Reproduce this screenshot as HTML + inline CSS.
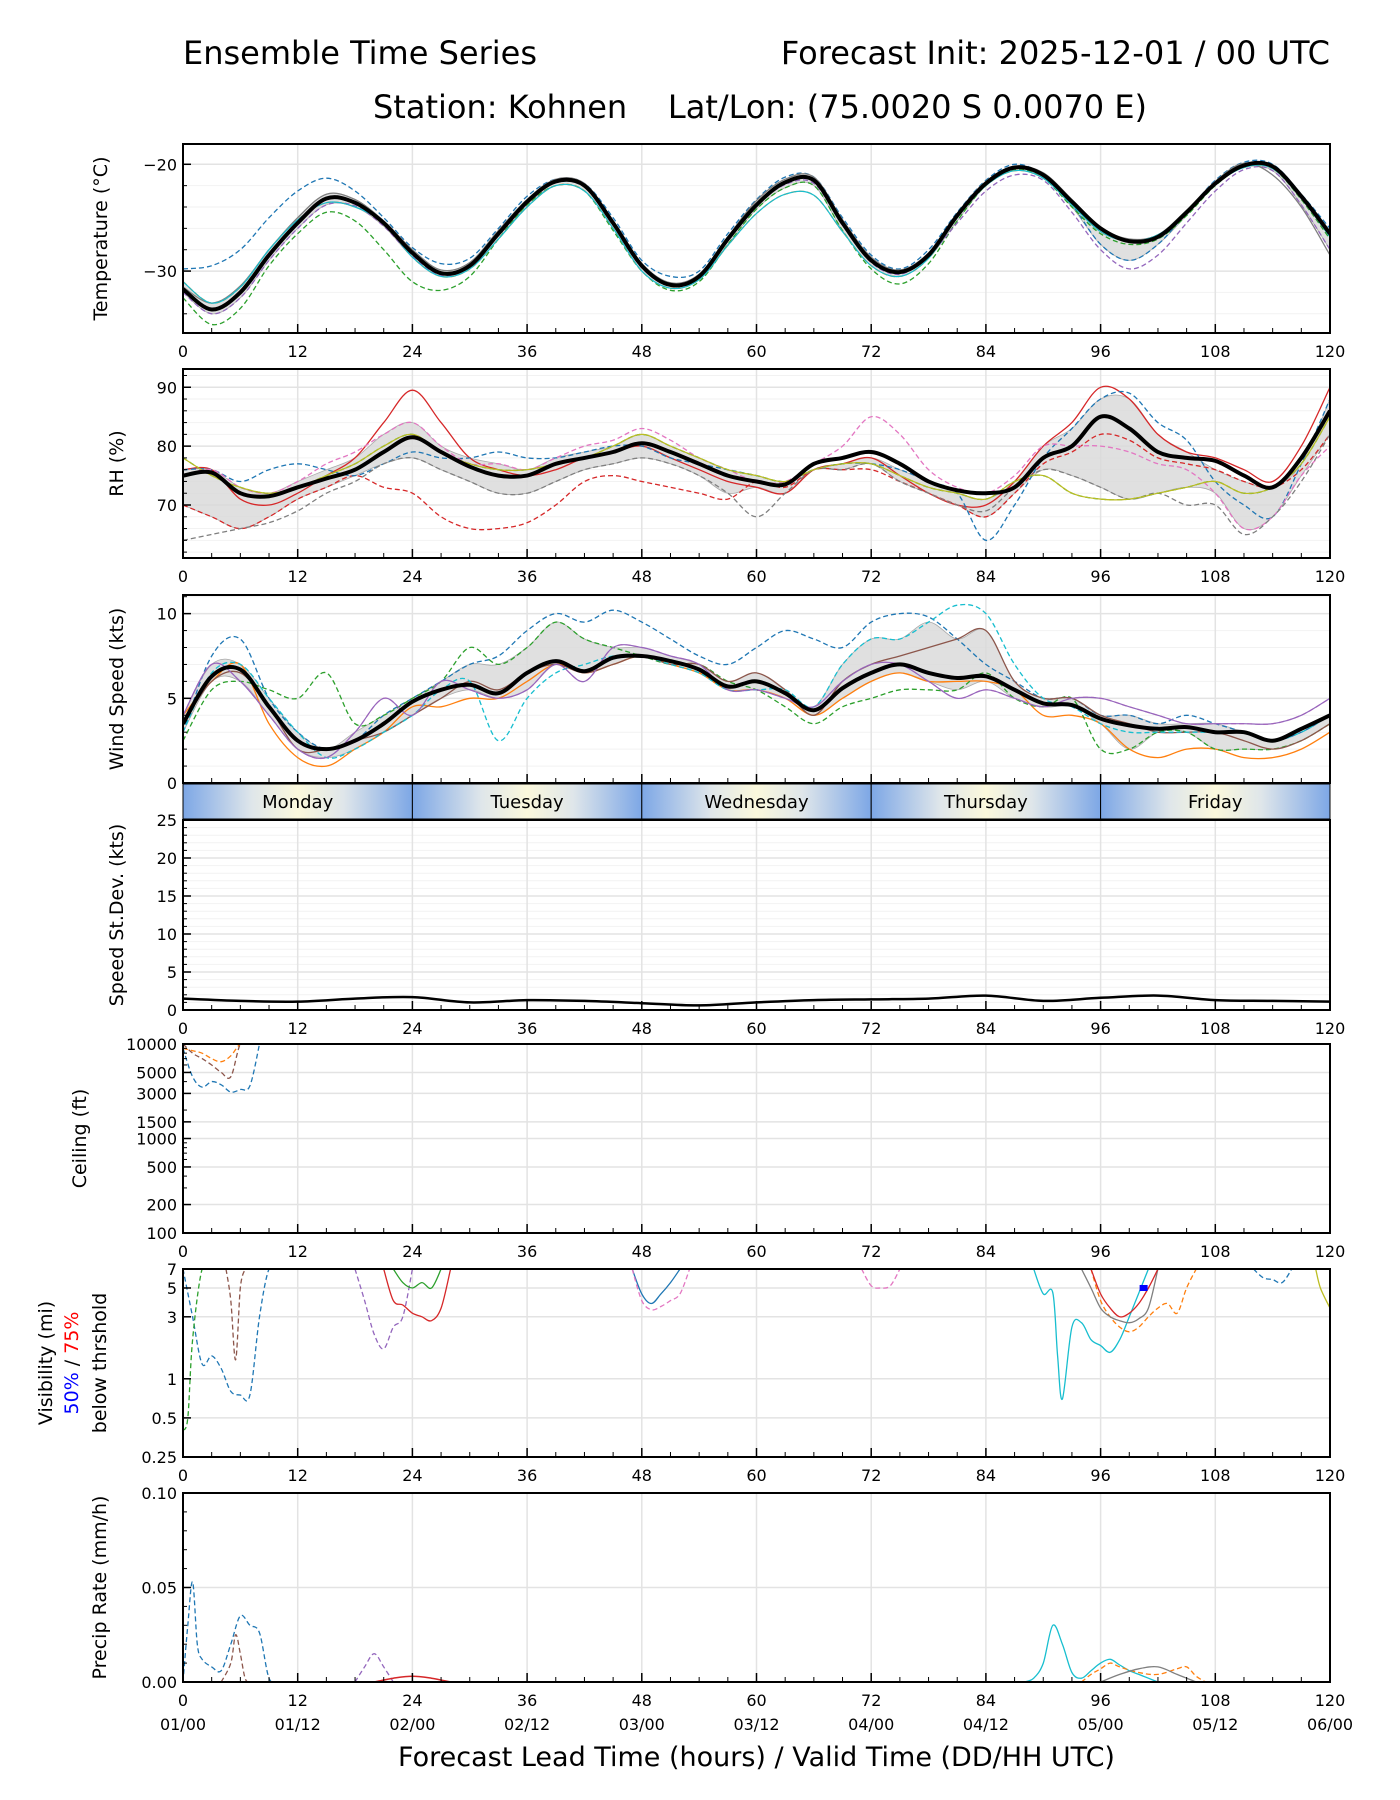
<!DOCTYPE html>
<html><head><meta charset="utf-8"><style>
body{margin:0;background:#fff}
svg{display:block;font-family:"DejaVu Sans","Liberation Sans",sans-serif}
</style></head><body>
<svg id="fig" width="1400" height="1800" viewBox="0 0 1400 1800" xmlns="http://www.w3.org/2000/svg">
<defs>
<linearGradient id="dayg" x1="0" x2="1" y1="0" y2="0">
<stop offset="0" stop-color="#7da7e6"/><stop offset="0.3" stop-color="#dfe6ea"/><stop offset="0.5" stop-color="#fbf8dc"/><stop offset="0.7" stop-color="#dfe6ea"/><stop offset="1" stop-color="#7da7e6"/>
</linearGradient>
</defs>
<text x="183" y="64" font-size="32">Ensemble Time Series</text>
<text x="1330" y="64" font-size="32" text-anchor="end">Forecast Init: 2025-12-01 / 00 UTC</text>
<text x="760" y="118" font-size="32" text-anchor="middle">Station: Kohnen &#160;&#160; Lat/Lon: (75.0020 S 0.0070 E)</text>
<g id="plots"></g>
</svg>
<script>
// ---- data ----
const hours3 = [0,3,6,9,12,15,18,21,24,27,30,33,36,39,42,45,48,51,54,57,60,63,66,69,72,75,78,81,84,87,90,93,96,99,102,105,108,111,114,117,120];
const hours6 = [0,6,12,18,24,30,36,42,48,54,60,66,72,78,84,90,96,102,108,114,120];
const xTicks = [0,12,24,36,48,60,72,84,96,108,120];
const dateLabels = ["01/00","01/12","02/00","02/12","03/00","03/12","04/00","04/12","05/00","05/12","06/00"];
const dayNames = ["Monday","Tuesday","Wednesday","Thursday","Friday"];

const tempMean = [-31.7,-33.6,-32,-28.5,-25.5,-23.2,-23.6,-25.5,-28.3,-30.2,-29.5,-26.5,-23.5,-21.6,-22,-25.5,-29.5,-31.3,-30.5,-27,-23.8,-21.7,-21.5,-25.5,-29,-30.1,-28.5,-24.8,-21.8,-20.3,-21,-23.5,-26,-27.2,-26.8,-24.5,-21.8,-20.1,-20.2,-23,-26.5];
const tempM1 = [-29.8,-29.5,-28,-25,-22.5,-21.3,-22.5,-25,-27.8,-29.3,-28.8,-26,-23,-21.4,-21.8,-25,-29,-30.5,-30,-26.5,-23.3,-21.2,-21.2,-25,-28.5,-29.8,-28,-24.5,-21.5,-20,-21,-23.8,-27.5,-29,-27.5,-24.5,-21.5,-19.8,-20,-22.8,-26];
const tempM2 = [-32.5,-35,-33.5,-29.5,-26.5,-24.5,-25.3,-28,-31,-31.8,-30.5,-27,-23.8,-22,-22.5,-26.2,-30,-31.8,-31,-27.5,-24.2,-22.2,-22,-26.2,-29.8,-31.2,-29.3,-25.3,-22,-20.5,-21.3,-24,-26.5,-27.5,-27,-24.8,-22,-20.2,-20.4,-23.3,-27];
const tempM3 = [-31,-33,-31.5,-28,-25.2,-23.6,-24,-25.5,-28.7,-30.5,-29.8,-27,-24,-22,-22.5,-26,-30,-31.6,-30.8,-27.6,-24.6,-22.8,-22.9,-26.3,-29.5,-30.5,-28.8,-25,-22,-20.6,-21.3,-23.8,-26.3,-27.2,-26.6,-24.6,-21.9,-20.3,-20.4,-23.2,-26.8];
const tempM4 = [-32,-34,-32.5,-29,-26,-23.8,-23.9,-25.8,-28.6,-30.4,-29.6,-26.7,-23.7,-21.7,-22.1,-25.7,-29.7,-31.4,-30.6,-27.2,-23.9,-21.9,-21.8,-25.7,-29.2,-30.3,-28.6,-25.5,-22.5,-21,-21.5,-24.5,-28,-29.8,-28.5,-25.5,-22.5,-20.5,-20.6,-23.8,-28];
const tempM5 = [-31.5,-33,-31.4,-28,-25,-22.8,-23.3,-25.3,-28,-29.9,-29.2,-26.2,-23.3,-21.4,-21.8,-25.3,-29.3,-31.1,-30.3,-26.8,-23.4,-21.4,-21.2,-25.2,-28.7,-29.9,-28.3,-24.6,-21.6,-20.2,-20.8,-23.3,-25.9,-27,-26.6,-24.3,-21.6,-19.9,-21,-24,-28.5];
const tempTicks = [-20,-30];

const rhMean = [75,75.5,72,71.5,73,74.5,76,79,81.5,79,76.5,75,75,77,78,79,80.5,79,77,75,74,73.5,77,78,79,77,74,72.5,72,73,78,80,85,83,79,78,77.5,75,73,78,86];
const rhM1 = [76,76,71,70,72,75,78,84,89.5,84,78,76,75,76,78,79,80,78,76,74,73,72,76,77,78,75,72,70,70,74,80,84,90,88,82,79,78,76,74,80,90];
const rhM2 = [70,68,66,68,71,73,75,73,72,68,66,66,67,70,74,75,74,73,72,71,74,73,76,76,76,74,72,70,68,72,77,79,82,81,78,77,76,74,73,76,82];
const rhM3 = [76,76,74,76,77,76,75,77,79,78,78,79,78,78,79,80,80,78,77,76,75,74,76,77,77,76,74,72,64,70,78,83,88,89,84,81,74,70,68,77,88];
const rhM4 = [75,76,73,72,74,77,79,82,84,80,77,77,76,78,80,81,83,81,78,76,74,74,77,80,85,82,76,73,72,75,80,80,80,79,77,76,72,66,68,75,80];
const rhM5 = [64,65,66,67,69,72,74,77,78,76,74,72,72,74,76,77,78,77,75,72,68,72,76,76,77,74,72,70,69,73,76,75,73,71,72,70,70,65,68,74,82];
const rhM6 = [78,75,73,72,73,75,77,80,82,79,77,76,76,77,78,80,82,80,78,76,75,74,76,77,77,75,73,72,71,74,75,72,71,71,72,73,74,72,73,77,85];
const rhTicks = [70,80,90];

const windMean = [3.5,6.3,6.7,4.5,2.5,2.0,2.5,3.5,4.8,5.5,5.8,5.3,6.5,7.2,6.6,7.4,7.5,7.2,6.7,5.7,6.0,5.3,4.3,5.6,6.5,7.0,6.5,6.2,6.3,5.5,4.7,4.6,3.8,3.4,3.2,3.3,3.0,3.0,2.5,3.2,4.0];
const windM1 = [3,7.5,8.5,5,3,2,2.5,4,5,6,7,7.5,9,10,9.5,10.2,9.5,8.5,7.5,7,8,9,8.5,8,9.5,10,9.8,8.5,7,6,5,5,4,4,3.5,4,3.5,3,2.5,3,4];
const windM2 = [4,6,7,3.5,1.5,1,2,3,4.5,4.5,5,5,6,7,6.5,7,7.5,7,6.5,5.5,5.5,5,4,5,6,6.5,6,6,6,5.5,4,4,3.5,2,1.5,2,2,1.5,1.5,2,3];
const windM3 = [2.5,5.5,6,5.5,5,6.5,3.5,4,5,6,8,7,8,9.5,8.5,8,7.5,7,7,6,5.5,4.5,3.5,4.5,5,5.5,5.5,5.5,6.5,5,4.5,5,2,2,3,3,2,2,2,2.5,3.5];
const windM4 = [4,7,6,4,2,1.5,3,5,4,6,5.5,5,5.5,7,6,8,8,7.5,7,5.5,5.5,5,4.5,6,7,7,6,5,5.5,5,4.5,5,5,4.5,4,3.5,3.5,3.5,3.5,4,5];
const windM5 = [3.5,6,6.5,4.5,2,2,2.5,3,4,5,6,5.5,6.5,7,6.5,7,7.5,7,7,6,6.5,5.5,4,6,7,7.5,8,8.5,9,6,5,5,4,3.5,3,3,3,2.5,2,2.5,3.5];
const windM6 = [3,6.5,7,5,3,1.5,2,3,4,5.5,6,2.5,5,6.5,7,7.5,7.5,7,6.5,5.5,5.5,5.5,4.5,7,8.5,8.5,9.5,10.5,10,7,5,4.5,3.5,3,3,3,3,3,2.5,3,4];
const windTicks = [0,5,10];

const sdValues = [1.5,1.2,1.1,1.5,1.7,1.0,1.3,1.2,0.9,0.6,1.0,1.3,1.4,1.5,1.9,1.2,1.6,1.9,1.3,1.2,1.1];
const sdTicks = [0,5,10,15,20,25];

const ceilHours = [0,1,2,3,4,5,6,7,8];
const ceilM1 = [9000,4500,3500,4000,3700,3100,3300,3600,10000];
const ceilM2 = [10000,8000,7000,6000,5000,4500,10000,10000,10000];
const ceilM3 = [9000,8500,8000,7000,6500,7500,10000,10000,10000];
const ceilTicks = [100,200,500,1000,1500,3000,5000,10000];

const visH1 = [0,1,2,3,4,5,6,7,8,9,10], visV1 = [7,3,1.3,1.5,1.2,0.8,0.75,0.75,3,7,7];
const visH2 = [0,0.5,1,2,3], visV2 = [0.4,0.5,2,7,7];
const visH3 = [4.5,5,5.5,6,6.5], visV3 = [7,4,1.4,5,7];
const visH4 = [18,19,20,21,22,23,24], visV4 = [7,4,2.2,1.7,2.5,3,7];
const visH5 = [21,22,23,24,25,26,27,28], visV5 = [7,4,3.7,3.2,3,2.8,3.5,7];
const visH6 = [22,23,24,25,26,27], visV6 = [7,5.5,5,5.5,5,7];
const visH7 = [47,48,49,50,51,52], visV7 = [7,4.5,3.8,4.5,5.5,7];
const visH8 = [47,48,49,50,51,52,53], visV8 = [7,4,3.4,3.6,4,4.5,7];
const visH9 = [89,90,91,91.5,92,93,94,95,96,97,98,99,101], visV9 = [7,4.5,4.6,1.5,0.7,2.5,2.7,2.0,1.8,1.6,2,3,7];
const visH10 = [95,96,97,98,99,100,101,102,103,104,105,106], visV10 = [7,4,3,2.5,2.3,2.5,3,3.5,3.8,3.2,5,7];
const visH11 = [94,95,96,97,98,99,100,101,102], visV11 = [7,5,3.5,3,2.8,2.7,2.9,3.5,7];
const visH12 = [71,72,73,74,75], visV12 = [7,5.2,5,5.2,7];
const visH13 = [95,96,97,98,99,100,101,102], visV13 = [7,4.5,3.5,3,3.2,3.8,5,7];
const visH14 = [112,113,114,115,116], visV14 = [7,6,5.8,5.5,7];
const visH15 = [118.5,119,120], visV15 = [7,5,3.5];
const visTicks = [0.25,0.5,1,3,5,7];

const prH1 = [0,0.5,1,1.5,2,3,4,5,6,7,8,9,10], prV1 = [0,0.03,0.053,0.02,0.012,0.008,0.006,0.02,0.035,0.03,0.026,0.002,0];
const prH2 = [4,5,5.5,6,6.5,7,8], prV2 = [0,0.01,0.025,0.015,0.002,0,0];
const prH3 = [18,19,20,21,22], prV3 = [0,0.008,0.015,0.008,0];
const prH4 = [88,89,90,91,92,93,94,95,96,97,98,99,100,101,102], prV4 = [0,0.002,0.01,0.03,0.02,0.005,0.002,0.006,0.01,0.012,0.009,0.006,0.004,0.002,0];
const prH5 = [94,95,96,97,98,100,102,104,105,106,107], prV5 = [0,0.004,0.007,0.01,0.008,0.005,0.004,0.007,0.008,0.003,0];
const prH6 = [96,98,100,102,104,106], prV6 = [0,0.004,0.007,0.008,0.004,0];
const prH7 = [20,22,24,26,28], prV7 = [0,0.002,0.003,0.002,0];
const prTicks = [0,0.05,0.10];

// ---- drawing ----
const NS = "http://www.w3.org/2000/svg";
const root = document.getElementById('plots');
const X0 = 183, X1 = 1330;
function xs(h){ return X0 + (h/120)*(X1-X0); }
function mk(tag, attrs, parent){ const e = document.createElementNS(NS, tag); for (const k in attrs) e.setAttribute(k, attrs[k]); (parent||root).appendChild(e); return e; }
function linScale(lo,hi,top,bot){ return v => bot - (v-lo)/(hi-lo)*(bot-top); }
function logScale(lo,hi,top,bot){ return v => bot - (Math.log(v)-Math.log(lo))/(Math.log(hi)-Math.log(lo))*(bot-top); }
function smoothPath(pts){
  if (pts.length < 2) return "";
  let d = "M" + pts[0][0].toFixed(1) + "," + pts[0][1].toFixed(1);
  for (let i=0;i<pts.length-1;i++){
    const p0 = pts[Math.max(0,i-1)], p1 = pts[i], p2 = pts[i+1], p3 = pts[Math.min(pts.length-1,i+2)];
    const c1x = p1[0]+(p2[0]-p0[0])/6, c1y = p1[1]+(p2[1]-p0[1])/6;
    const c2x = p2[0]-(p3[0]-p1[0])/6, c2y = p2[1]-(p3[1]-p1[1])/6;
    d += "C"+c1x.toFixed(1)+","+c1y.toFixed(1)+" "+c2x.toFixed(1)+","+c2y.toFixed(1)+" "+p2[0].toFixed(1)+","+p2[1].toFixed(1);
  }
  return d;
}
let clipN = 0;
function panel(name, top, bot, ys, yTicks, yFmt, minorY, noXLabels){
  const g = mk('g', {});
  
  
  if (minorY) minorY.forEach(v => { const y = ys(v); if (y>top && y<bot) mk('line', {x1:X0,x2:X1,y1:y,y2:y,stroke:'#f2f2f2','stroke-width':1}, g); });
  yTicks.forEach(v => { const y = ys(v); mk('line', {x1:X0,x2:X1,y1:y,y2:y,stroke:'#e3e3e3','stroke-width':1.5}, g); });
  xTicks.forEach(h => { mk('line', {x1:xs(h),x2:xs(h),y1:top,y2:bot,stroke:'#e3e3e3','stroke-width':1.5}, g); });
  const id = 'clip' + (clipN++);
  const cp = mk('clipPath', {id:id}, g); mk('rect', {x:X0,y:top,width:X1-X0,height:bot-top}, cp);
  const data = mk('g', {'clip-path':'url(#'+id+')'}, g);
  
  
  for (let h=0; h<=120; h+=3){
    const major = h%12===0; const L = major?9:5;
    mk('line', {x1:xs(h),x2:xs(h),y1:bot,y2:bot-L,stroke:'#000','stroke-width':major?1.5:1}, g);
  }
  yTicks.forEach(v => {
    const y = ys(v);
    mk('line', {x1:X0,x2:X0+8,y1:y,y2:y,stroke:'#000','stroke-width':1.5}, g);
    const t = mk('text', {x:X0-6,y:y+6,'font-size':16,'text-anchor':'end'}, g);
    t.textContent = yFmt(v);
    
    
  });
  if (minorY) minorY.forEach(v => { const y = ys(v); if (y>top && y<bot) mk('line', {x1:X0,x2:X0+4,y1:y,y2:y,stroke:'#000','stroke-width':1}, g); });
  mk('rect', {x:X0,y:top,width:X1-X0,height:bot-top,fill:'none',stroke:'#000','stroke-width':2}, g);
  if (!noXLabels) xTicks.forEach(h => {
    const t = mk('text', {x:xs(h),y:bot+24,'font-size':16,'text-anchor':'middle'}, g);
    t.textContent = h;
    
    
  });
  return data;
}
function yLabel(text, cx, cy, name){
  const t = mk('text', {x:cx,y:cy,'font-size':19,'text-anchor':'middle',transform:'rotate(-90 '+cx+' '+cy+')'});
  t.textContent = text;
  
  
  return t;
}
const tab = ['#1f77b4','#ff7f0e','#2ca02c','#d62728','#9467bd','#8c564b','#e377c2','#7f7f7f','#bcbd22','#17becf'];
function line(g, hrs, vals, ys, color, dashed, w, name){
  const pts = hrs.map((h,i) => [xs(h), ys(vals[i])]);
  const p = mk('path', {d:smoothPath(pts),fill:'none',stroke:color,'stroke-width':w||1.3,'stroke-dasharray':dashed?'5,3':'none'}, g);
  
  
  return p;
}
function band(g, hrs, members, ys, name){
  const lo = hrs.map((h,i) => { const s = members.map(m=>m[i]).sort((a,b)=>a-b); return s[1]; });
  const hi = hrs.map((h,i) => { const s = members.map(m=>m[i]).sort((a,b)=>a-b); return s[s.length-2]; });
  const up = hrs.map((h,i)=>[xs(h), ys(hi[i])]);
  const dn = hrs.map((h,i)=>[xs(h), ys(lo[i])]).reverse();
  const d = smoothPath(up) + "L" + smoothPath(dn).slice(1) + "Z";
  const p = mk('path', {d:d,fill:'#d8d8d8','fill-opacity':0.8,stroke:'#aaa','stroke-width':0.8}, g);
  
  
}

// Temperature
{
  const top=144, bot=333, ys = linScale(-35.8,-18.1,top,bot);
  const minor=[]; for(let v=-34; v<=-18; v+=2) if (v%10!==0) minor.push(v);
  const g = panel('temperature', top, bot, ys, tempTicks, v=>'\u2212'+Math.abs(v), minor);
  const mem = [tempM1,tempM2,tempM3,tempM4,tempM5];
  band(g, hours3, mem, ys, 'temperature-spread-band');
  line(g, hours3, tempM1, ys, tab[0], true, 1.3, 'temperature-member');
  line(g, hours3, tempM2, ys, tab[2], true, 1.3, 'temperature-member');
  line(g, hours3, tempM3, ys, tab[1], true, 1.3, 'temperature-member');
  line(g, hours3, tempM4, ys, tab[4], true, 1.3, 'temperature-member');
  line(g, hours3, tempM5, ys, tab[7], false, 1.3, 'temperature-member');
  line(g, hours3, tempM3, ys, tab[9], false, 1.2, 'temperature-member');
  line(g, hours3, tempMean, ys, '#000', false, 4, 'temperature-ensemble-mean');
  yLabel('Temperature (°C)', 107, (top+bot)/2, 'temperature-y-axis-title');
}
// RH
{
  const top=369, bot=558, ys = linScale(61,93.1,top,bot);
  const minor=[]; for(let v=62; v<=92; v+=2) if (v%10!==0) minor.push(v);
  const g = panel('rh', top, bot, ys, rhTicks, v=>String(v), minor);
  const mem = [rhM1,rhM2,rhM3,rhM4,rhM5,rhM6];
  band(g, hours3, mem, ys, 'rh-spread-band');
  line(g, hours3, rhM1, ys, tab[3], false, 1.3, 'rh-member');
  line(g, hours3, rhM2, ys, tab[3], true, 1.3, 'rh-member');
  line(g, hours3, rhM3, ys, tab[0], true, 1.3, 'rh-member');
  line(g, hours3, rhM4, ys, tab[6], true, 1.3, 'rh-member');
  line(g, hours3, rhM5, ys, tab[7], true, 1.3, 'rh-member');
  line(g, hours3, rhM6, ys, tab[2], true, 1.3, 'rh-member');
  line(g, hours3, rhM6, ys, tab[8], false, 1.2, 'rh-member');
  line(g, hours3, rhMean, ys, '#000', false, 4, 'rh-ensemble-mean');
  yLabel('RH (%)', 123, (top+bot)/2, 'rh-y-axis-title');
}
// Wind
{
  const top=595, bot=783, ys = linScale(0,11.1,top,bot);
  const minor=[1,2,3,4,6,7,8,9,11];
  const g = panel('wind', top, bot, ys, windTicks, v=>String(v), minor, true);
  const mem = [windM1,windM2,windM3,windM4,windM5,windM6];
  band(g, hours3, mem, ys, 'wind-spread-band');
  line(g, hours3, windM1, ys, tab[0], true, 1.3, 'wind-member');
  line(g, hours3, windM2, ys, tab[1], false, 1.3, 'wind-member');
  line(g, hours3, windM3, ys, tab[2], true, 1.3, 'wind-member');
  line(g, hours3, windM4, ys, tab[6], true, 1.3, 'wind-member');
  line(g, hours3, windM5, ys, tab[5], false, 1.3, 'wind-member');
  line(g, hours3, windM6, ys, tab[9], true, 1.3, 'wind-member');
  line(g, hours3, windM4, ys, tab[4], false, 1.2, 'wind-member');
  line(g, hours3, windMean, ys, '#000', false, 4, 'wind-ensemble-mean');
  yLabel('Wind Speed (kts)', 123, (top+bot)/2, 'wind-y-axis-title');
}
// Day band
{
  const top=784, bot=819;
  dayNames.forEach((d,i) => {
    const r = mk('rect', {x:xs(i*24),y:top,width:xs(24)-xs(0),height:bot-top,fill:'url(#dayg)',stroke:'#000','stroke-width':1});
    
    
    const t = mk('text', {x:xs(i*24+12),y:top+24,'font-size':18,'text-anchor':'middle'});
    t.textContent = d;
    
    
  });
}
// Speed StDev
{
  const top=820, bot=1010, ys = linScale(0,25,top,bot);
  const minor=[]; for(let v=1; v<25; v++) if (v%5!==0) minor.push(v);
  const g = panel('speed-stdev', top, bot, ys, sdTicks, v=>String(v), minor);
  line(g, hours6, sdValues, ys, '#000', false, 2.5, 'speed-stdev-line');
  yLabel('Speed St.Dev. (kts)', 123, (top+bot)/2, 'speed-stdev-y-axis-title');
}
// Ceiling
{
  const top=1044, bot=1233, ys = logScale(100,10000,top,bot);
  const minor=[300,400,600,700,800,900,2000,4000,6000,7000,8000,9000];
  const g = panel('ceiling', top, bot, ys, ceilTicks, v=>String(v), null);
  minor.forEach(v=>{ const y=ys(v); mk('line',{x1:X0,x2:X0+4,y1:y,y2:y,stroke:'#000','stroke-width':1}); });
  line(g, ceilHours, ceilM1, ys, tab[0], true, 1.3, 'ceiling-member');
  line(g, ceilHours, ceilM2, ys, tab[5], true, 1.3, 'ceiling-member');
  line(g, ceilHours, ceilM3, ys, tab[1], true, 1.3, 'ceiling-member');
  yLabel('Ceiling (ft)', 86, (top+bot)/2, 'ceiling-y-axis-title');
}
// Visibility
{
  const top=1269, bot=1457, ys = logScale(0.25,7,top,bot);
  const g = panel('visibility', top, bot, ys, visTicks, v=>String(v), null);
  line(g, visH1, visV1, ys, tab[0], true, 1.3, 'visibility-member');
  line(g, visH2, visV2, ys, tab[2], true, 1.3, 'visibility-member');
  line(g, visH3, visV3, ys, tab[5], true, 1.3, 'visibility-member');
  line(g, visH4, visV4, ys, tab[4], true, 1.3, 'visibility-member');
  line(g, visH5, visV5, ys, tab[3], false, 1.3, 'visibility-member');
  line(g, visH6, visV6, ys, tab[2], false, 1.3, 'visibility-member');
  line(g, visH7, visV7, ys, tab[0], false, 1.3, 'visibility-member');
  line(g, visH8, visV8, ys, tab[6], true, 1.3, 'visibility-member');
  line(g, visH9, visV9, ys, tab[9], false, 1.3, 'visibility-member');
  line(g, visH10, visV10, ys, tab[1], true, 1.3, 'visibility-member');
  line(g, visH11, visV11, ys, tab[7], false, 1.3, 'visibility-member');
  line(g, visH12, visV12, ys, tab[6], true, 1.3, 'visibility-member');
  line(g, visH13, visV13, ys, tab[3], false, 1.3, 'visibility-member');
  line(g, visH14, visV14, ys, tab[0], true, 1.3, 'visibility-member');
  line(g, visH15, visV15, ys, tab[8], false, 1.3, 'visibility-member');
  const m = mk('rect', {x:xs(100.5)-4,y:ys(5)-3,width:8,height:6,fill:'#0000ff'}, g);
  
  
  const cy = (top+bot)/2;
  yLabel('Visibility (mi)', 52, cy, 'visibility-y-axis-title');
  const t2 = mk('text', {x:78,y:cy,'font-size':19,'text-anchor':'middle',transform:'rotate(-90 78 '+cy+')'});
  
  
  const s1 = mk('tspan', {fill:'#0000ff'}, t2); s1.textContent = '50%';
  const s2 = mk('tspan', {fill:'#000'}, t2); s2.textContent = ' / ';
  const s3 = mk('tspan', {fill:'#ff0000'}, t2); s3.textContent = '75%';
  yLabel('below thrshold', 106, cy, 'visibility-y-axis-subtitle');
}
// Precip
{
  const top=1493, bot=1682, ys = linScale(0,0.1,top,bot);
  const minor=[0.01,0.02,0.03,0.04,0.06,0.07,0.08,0.09];
  const g = panel('precip', top, bot, ys, prTicks, v=>v.toFixed(2), null);
  minor.forEach(v=>{ const y=ys(v); mk('line',{x1:X0,x2:X0+4,y1:y,y2:y,stroke:'#000','stroke-width':1}); });
  line(g, prH1, prV1, ys, tab[0], true, 1.3, 'precip-member');
  line(g, prH2, prV2, ys, tab[5], true, 1.3, 'precip-member');
  line(g, prH3, prV3, ys, tab[4], true, 1.3, 'precip-member');
  line(g, prH4, prV4, ys, tab[9], false, 1.3, 'precip-member');
  line(g, prH5, prV5, ys, tab[1], true, 1.3, 'precip-member');
  line(g, prH6, prV6, ys, tab[7], false, 1.3, 'precip-member');
  line(g, prH7, prV7, ys, tab[3], false, 1.5, 'precip-member');
  yLabel('Precip Rate (mm/h)', 106, (top+bot)/2, 'precip-y-axis-title');
  xTicks.forEach((h,i) => {
    const t = mk('text', {x:xs(h),y:bot+48,'font-size':16,'text-anchor':'middle'});
    t.textContent = dateLabels[i];
    
    
  });
  const xt = mk('text', {x:(X0+X1)/2,y:bot+84,'font-size':27,'text-anchor':'middle'});
  xt.textContent = 'Forecast Lead Time (hours) / Valid Time (DD/HH UTC)';
  
  
}
</script>
</body></html>
